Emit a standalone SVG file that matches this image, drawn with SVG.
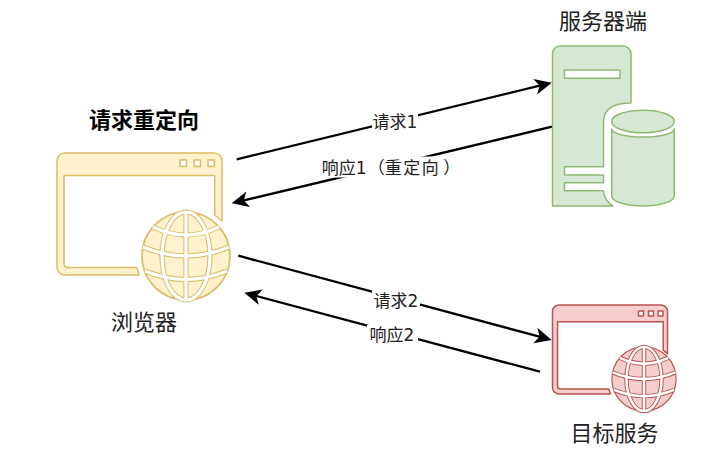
<svg xmlns="http://www.w3.org/2000/svg" width="708" height="454" viewBox="0 0 708 454">
<style>
text{font-family:"DejaVu Sans","Noto Sans CJK SC",sans-serif;fill:#222;text-anchor:middle}
.big{font-size:22px}
.small{font-size:17px}
.title{font-size:22px;font-weight:bold;fill:#000}
.yellow{fill:#fff2cc;stroke:#d9bc66;--o:5.2px;--w:3.2px}
.green{fill:#d5e8d4;stroke:#8cba72}
.red{fill:#f8cecc;stroke:#b85450;--o:6px;--w:3.4px}
.shape{stroke-width:1.5;stroke-linejoin:round}
.hole{fill:#fff}
.conn{stroke:#000;stroke-width:2.3;fill:none;marker-end:url(#arrow)}
.gap{fill:#fff}
.gl{fill:none;stroke-width:var(--o)}
.gw{fill:none;stroke:#fff;stroke-width:var(--w)}
</style>
<defs>
<marker id="arrow" markerUnits="userSpaceOnUse" markerWidth="24" markerHeight="22" refX="11" refY="11" orient="auto">
<path d="M17,11 L0,3 L4.5,11 L0,19 Z" fill="#000"/>
</marker>
<g id="grid">
<path d="M0,-44V44"/>
<ellipse cx="0" cy="0" rx="24" ry="44"/>
<path d="M-33,-29Q0,-13 33,-29"/>
<path d="M-43,-9Q0,9 43,-9"/>
<path d="M-41,15Q0,32 41,15"/>
</g>
<g id="globe">
<circle cx="0" cy="0" r="44" stroke-width="1.6"/>
<use href="#grid" class="gl"/>
<use href="#grid" class="gw"/>
</g>
</defs>

<g id="connectors">
<path class="conn" d="M236.7,159.3L545.9,84.1"/>
<path class="conn" d="M552,126.7L237.5,201.9"/>
<path class="conn" d="M238.3,255.7L545.9,338.4"/>
<path class="conn" d="M540,371.7L250.1,294.3"/>
<rect class="gap" x="372" y="113" width="46" height="15"/>
<text class="small" x="395" y="127.5">请求1</text>
<rect class="gap" x="321" y="156.5" width="135" height="21"/>
<text class="small" x="391" y="174">响应1<tspan dx="1">（</tspan><tspan letter-spacing="1.5">重定向</tspan><tspan dx="3">）</tspan></text>
<rect class="gap" x="372" y="290" width="48" height="18"/>
<text class="small" x="396" y="306.5">请求2</text>
<rect class="gap" x="367" y="325" width="51" height="18"/>
<text class="small" x="392" y="340.5">响应2</text>
</g>

<text id="title" class="title" x="144" y="127.5">请求重定向</text>

<g id="browser">
<path class="shape yellow" d="M139.3,275H65a8,8 0 0 1 -8,-8V161a8,8 0 0 1 8,-8H214a8,8 0 0 1 8,8V221L214.7,215V175.5H64V264q0,3.5 3.5,3.5H136.7Z"/>
<rect class="shape yellow hole" x="180" y="160" width="6.5" height="6.5"/>
<rect class="shape yellow hole" x="194" y="160" width="6.5" height="6.5"/>
<rect class="shape yellow hole" x="208" y="160" width="6.5" height="6.5"/>
<use href="#globe" class="yellow" transform="translate(186,256)"/>
<text class="big" x="144" y="329.5">浏览器</text>
</g>

<g id="server">
<path class="shape green" d="M552.5,206V54a8,8 0 0 1 8,-8H623a8,8 0 0 1 8,8V103C614,103 603.5,109 603.5,122V166.7H564.5V175H603.5V182.7H564.5V190.7H603.5C603.5,197 608,203 613,206Z"/>
<rect class="shape green hole" x="564.5" y="70" width="55.5" height="8.3"/>
<ellipse class="shape green" cx="643" cy="121.5" rx="31.3" ry="11.3"/>
<path class="shape green" d="M611.7,129A31.3,8 0 0 0 674.3,129V196A31.3,10 0 0 1 611.7,196Z"/>
<text class="big" x="603" y="28.5">服务器端</text>
</g>

<g id="target">
<path class="shape red" d="M610.7,394H559a6.5,6.5 0 0 1 -6.5,-6.5V311.5a6.5,6.5 0 0 1 6.5,-6.5H661a6.5,6.5 0 0 1 6.5,6.5V354L663.2,350V321.7H557.5V386q0,3 3,3H608.5Z"/>
<rect class="shape red hole" x="638.5" y="311" width="5" height="5"/>
<rect class="shape red hole" x="648.5" y="311" width="5" height="5"/>
<rect class="shape red hole" x="658" y="311" width="5" height="5"/>
<use href="#globe" class="red" transform="translate(644,379) scale(.73)"/>
<text class="big" x="614.5" y="440.5">目标服务</text>
</g>
</svg>
